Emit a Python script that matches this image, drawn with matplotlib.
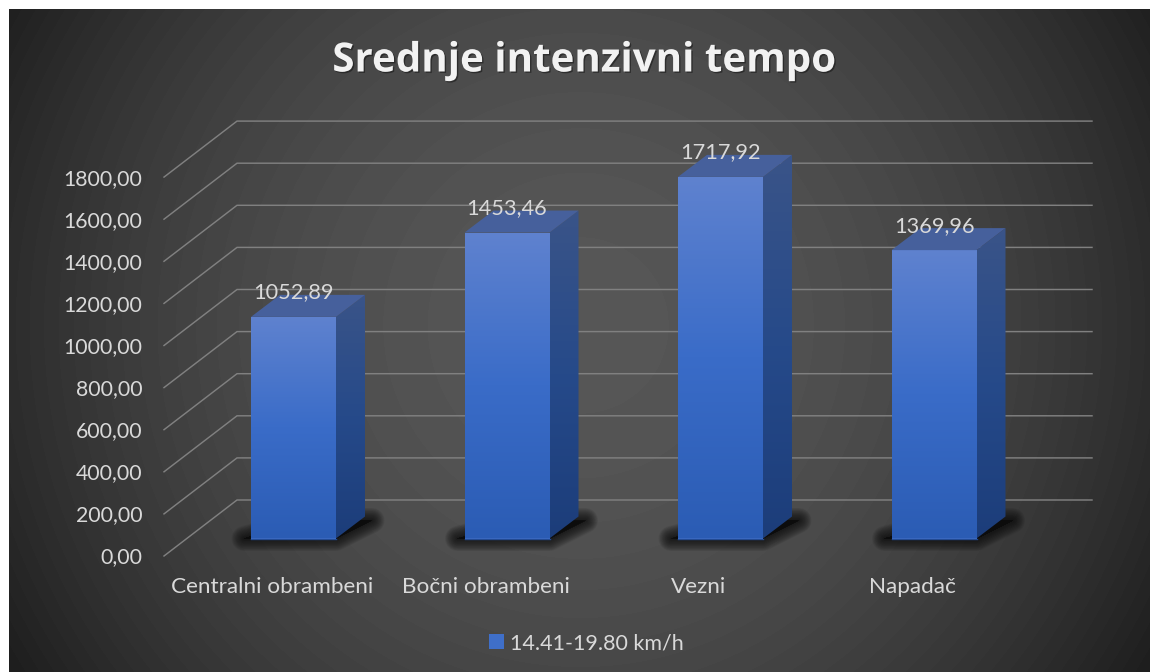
import matplotlib
matplotlib.use('Agg')
import matplotlib.pyplot as plt
import matplotlib.patheffects as pe
from matplotlib.colors import LinearSegmentedColormap
from matplotlib.patches import Polygon
import numpy as np

plt.rcParams['font.family'] = ['Lato', 'DejaVu Sans']

# data
categories = ['Centralni obrambeni', 'Bočni obrambeni', 'Vezni', 'Napadač']
values = [1052.89, 1453.46, 1717.92, 1369.96]
value_labels = ['1052,89', '1453,46', '1717,92', '1369,96']
y_ticks = [0, 200, 400, 600, 800, 1000, 1200, 1400, 1600, 1800]
y_tick_labels = ['0,00', '200,00', '400,00', '600,00', '800,00', '1000,00',
                 '1200,00', '1400,00', '1600,00', '1800,00']
series_name = '14.41-19.80 km/h'
chart_title = 'Srednje intenzivni tempo'

W, H = 1150, 672
# one pixel in data units, the axes fill the whole figure
PX_X = 1 / 213.5
PX_Y = 1 / 0.2105
X0, BASE = 293.5, 538.5

fig = plt.figure(figsize=(W / 100, H / 100), dpi=100)
ax = fig.add_axes([0, 0, 1, 1])
xlim = (-X0 * PX_X, (W - X0) * PX_X)
ylim = ((BASE - H) * PX_Y, BASE * PX_Y)
x_pos = np.arange(len(categories))
TEXT = '#d9d9d9'


def px_x(p):
    return (p - X0) * PX_X


# background with the banded radial gradient
yy, xx = np.mgrid[0:H, 0:W]
r = np.hypot(xx - 580, yy - 325) / 660
shade = 0x56 - (0x56 - 0x1e) * np.clip(r, 0, 1) ** 2
shade = np.round(shade / 2) * 2 / 255
bg = np.dstack([shade, shade, shade])
bg[:9, :] = 1
bg[:, :9] = 1
ax.imshow(bg, extent=(*xlim, *ylim), aspect='auto', zorder=0, interpolation='nearest')

# gridlines: floor part and back wall
for t in y_ticks:
    front = t - 17.5 * PX_Y
    back = t + 38.5 * PX_Y
    ax.plot([px_x(164), px_x(237), px_x(1092)], [front, back, back],
            color='#808080', lw=1.05, zorder=1, solid_joinstyle='miter')

# soft shadows on the floor
for i in x_pos:
    sx = [px_x(244) + i, px_x(336) + i, px_x(372) + i, px_x(310) + i]
    sy = [0, 0, 18 * PX_Y, 18 * PX_Y]
    for lw in np.linspace(18, 0.5, 18):
        ax.add_patch(Polygon(np.column_stack([sx, sy]), closed=True, fc='#0c0c0c', ec='#0c0c0c',
                             lw=lw, alpha=0.065, zorder=2, joinstyle='round'))

front_cmap = LinearSegmentedColormap.from_list('front', ['#2b5cb4', '#3a6cc8', '#5f82cf'])
side_cmap = LinearSegmentedColormap.from_list('side', ['#1c3d7a', '#264a8a', '#3a5488'])
grad = np.linspace(1, 0, 256).reshape(-1, 1)

dx = 29 * PX_X
dy = 22 * PX_Y
width = 85 * PX_X

bars = ax.bar(x_pos, values, width=width, color='#3f6fc9', label=series_name, zorder=3)
for x, v, b in zip(x_pos, values, bars):
    left, right = x - width / 2, x + width / 2
    # front face gradient
    im = ax.imshow(grad, cmap=front_cmap, extent=(left, right, 0, v), vmin=0, vmax=1,
                   aspect='auto', zorder=3.1)
    im.set_clip_path(Polygon([(left, 0), (right, 0), (right, v), (left, v)],
                             transform=ax.transData))
    # side face gradient
    im = ax.imshow(grad, cmap=side_cmap, extent=(right, right + dx, 0, v + dy), vmin=0, vmax=1,
                   aspect='auto', zorder=3)
    im.set_clip_path(Polygon([(right, 0), (right + dx, dy), (right + dx, v + dy), (right, v)],
                             transform=ax.transData))
    # top face
    ax.add_patch(Polygon([(left, v), (right, v), (right + dx, v + dy), (left + dx, v + dy)],
                         closed=True, fc='#46609c', ec='none', zorder=3.2))
    ax.plot([left, right], [0, 0], color='#234a92', lw=1, zorder=3.3)

# value labels
for x, v, lab in zip(x_pos, values, value_labels):
    ax.text(x, v + 24.5 * PX_Y, lab, ha='center', va='center', color=TEXT, fontsize=15.7, zorder=5)

# y tick labels
for t, lab in zip(y_ticks, y_tick_labels):
    ax.text(px_x(142.5), t - 19 * PX_Y, lab, ha='right', va='center', color=TEXT, fontsize=15.3, zorder=5)

# category labels
for x, lab in zip(x_pos, categories):
    ax.text(x - 21.5 * PX_X, -48.5 * PX_Y, lab, ha='center', va='center', color=TEXT, fontsize=16.2, zorder=5)

ax.text(px_x(583.5), (BASE - 61) * PX_Y, chart_title, ha='center', va='center', color='#f2f2f2',
        fontsize=29, fontweight='bold', family=['Open Sans', 'DejaVu Sans'], zorder=5,
        path_effects=[pe.withSimplePatchShadow(offset=(1, -1), shadow_rgbFace='black', alpha=0.4)])

leg = ax.legend(loc='center', bbox_to_anchor=(586.5 / W, 1 - 643 / H), frameon=False, fontsize=15.5,
                labelcolor=TEXT, handlelength=0.68, handleheight=0.68, handletextpad=0.3)

ax.set_xlim(*xlim)
ax.set_ylim(*ylim)
ax.axis('off')

fig.savefig('out.png', dpi=100)
